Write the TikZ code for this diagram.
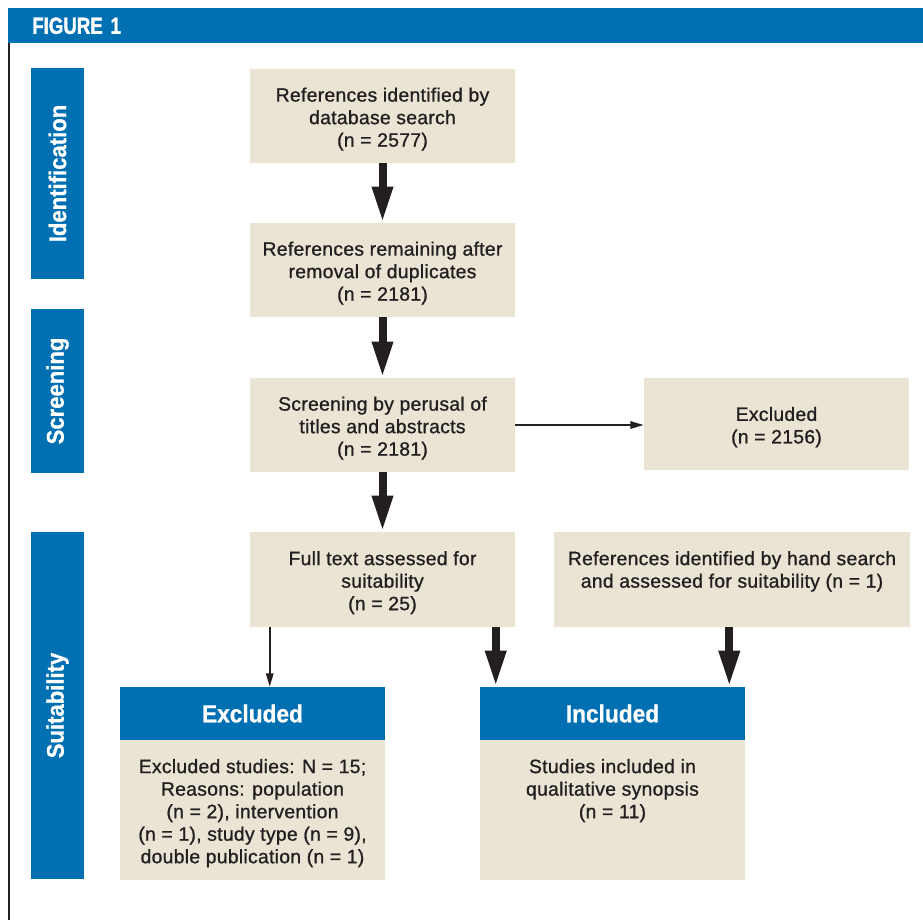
\documentclass[tikz,border=0pt]{standalone}
\usepackage{fontspec}
\setmainfont{Liberation Sans}
\newfontfamily\bodyf{Liberation Sans}[LetterSpace=1.5, FakeBold=1.0]
\newfontfamily\condbf{Liberation Sans Bold}[FakeStretch=0.8, FakeBold=1.5]
\newfontfamily\headbf{Liberation Sans Bold}[FakeStretch=0.92, FakeBold=0.8]
\newcommand\toprule{\rule{0pt}{1.05em}}
\usetikzlibrary{arrows.meta,calc}
\definecolor{figblue}{RGB}{0,112,178}
\definecolor{beige}{RGB}{234,228,213}
\definecolor{ink}{RGB}{35,31,32}
\tikzset{
  box/.style={fill=beige, inner sep=0pt, align=center, text=ink,
    font=\bodyf\fontsize{14.5}{16.9}\selectfont},
  bluehead/.style={fill=figblue, inner sep=0pt, align=center, text=white,
    font=\headbf\fontsize{18.5}{22}\selectfont,
    minimum width=198.75pt, minimum height=39.75pt},
  sidelab/.style={fill=figblue, inner sep=0pt, text=white, rotate=90,
    font=\headbf\fontsize{18}{22}\selectfont, minimum height=39.75pt},
  thickarr/.style={draw=ink, line width=6pt, -{Triangle[length=27pt,width=14.5pt]}},
  thinarr/.style={draw=ink, line width=1.4pt, -{Triangle[length=10pt,width=5.5pt]}},
  std/.style={minimum width=198.75pt, minimum height=70.5pt}
}
\begin{document}
\begin{tikzpicture}[x=0.75pt,y=-0.75pt]
\useasboundingbox (0,0) rectangle (923,920);
\fill[white] (0,0) rectangle (923,920);

% header bar
\node[fill=figblue, anchor=north west, inner xsep=18pt, inner ysep=0pt,
  minimum height=26.25pt, text width=650.25pt, align=left, text=white,
  font=\condbf\fontsize{17.5}{19}\selectfont] (hdr) at (8,8) {FIGURE 1};
\draw[ink, line width=1.6pt] (9,43) -- (9,920);

% side labels
\node[sidelab, minimum width=158.25pt] (sid) at (57.5,173.5) {Identification};
\node[sidelab, minimum width=123pt] (ssc) at (57.5,391) {Screening};
\node[sidelab, minimum width=260.25pt] (ssu) at (57.5,705.5) {Suitability};

% main boxes
\node[box, std] (b1) at (382.5,116) {\toprule References identified by\\database search\\(n = 2577)};
\node[box, std] (b2) at (382.5,270) {\toprule References remaining after\\removal of duplicates\\(n = 2181)};
\node[box, std] (b3) at (382.5,425) {\toprule Screening by perusal of\\titles and abstracts\\(n = 2181)};
\node[box, minimum width=198.75pt, minimum height=69pt] (ex1) at (776.5,424) {\toprule Excluded\\(n = 2156)};
\node[box, minimum width=198.75pt, minimum height=71.25pt] (b4) at (382.5,579.5) {\toprule Full text assessed for\\suitability\\(n = 25)};
\node[box, minimum width=267pt, minimum height=71.25pt] (hand) at (732,579.5) {\toprule References identified by hand search\\and assessed for suitability (n = 1)\\\mbox{}\vphantom{()}};

% bottom result boxes
\node[bluehead] (exH) at (252.5,713.5) {Excluded};
\node[box, minimum width=198.75pt, minimum height=105pt] (exB) at (252.5,810) {\toprule Excluded studies: N = 15;\\Reasons: population\\(n = 2), intervention\\(n = 1), study type (n = 9),\\double publication (n = 1)};
\node[bluehead] (inH) at (612.5,713.5) {Included};
\node[box, minimum width=198.75pt, minimum height=105pt] (inB) at (612.5,810) {\toprule Studies included in\\qualitative synopsis\\(n = 11)\\\mbox{}\\\mbox{}\vphantom{()}};

% connectors
\draw[thickarr] (b1) -- (b2);
\draw[thickarr] (b2) -- (b3);
\draw[thickarr] (b3) -- (b4);
\draw[thinarr] (b3.east) -- (b3.east -| ex1.west);
\coordinate (exL) at ([xshift=15pt]b4.south west);
\draw[thinarr] (exL) -- (exL |- exH.north);
\coordinate (inL) at ([xshift=12pt]inH.north west);
\draw[thickarr] (inL |- b4.south) -- (inL);
\coordinate (inR) at ([xshift=-12pt]inH.north east);
\draw[thickarr] (inR |- hand.south) -- (inR);
\end{tikzpicture}
\end{document}
